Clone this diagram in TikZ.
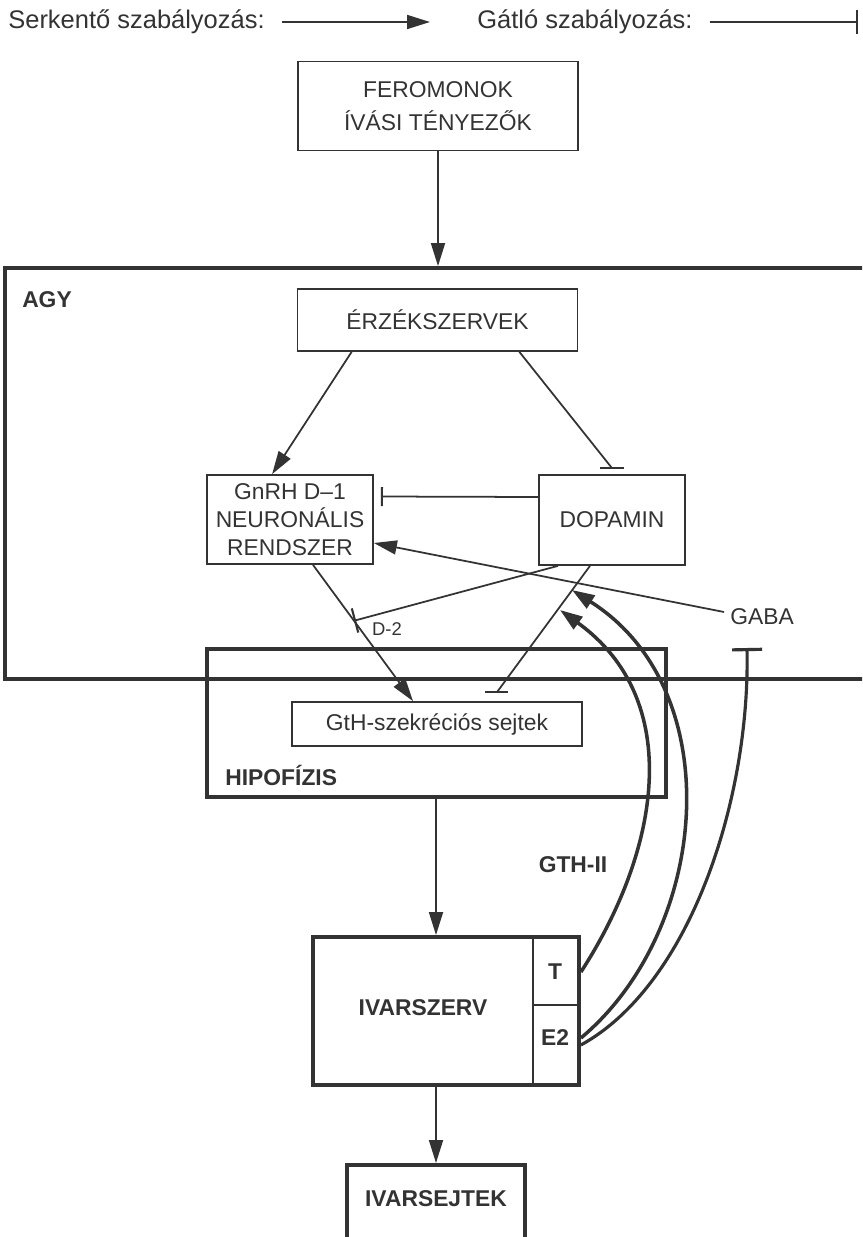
\documentclass[tikz,border=0pt]{standalone}
\usepackage{fontspec}
\setmainfont{Liberation Sans}
\usetikzlibrary{arrows.meta,calc}
\definecolor{ink}{gray}{0.2}
\tikzset{
  box/.style={draw=ink,text=ink,line width=1pt,inner sep=0pt,align=center,font=\fontsize{13}{16}\selectfont},
  bigbox/.style={draw=ink,line width=2.2pt,inner sep=0pt},
  lbl/.style={text=ink,inner sep=0pt,font=\fontsize{13}{16}\selectfont\bfseries},
  act/.style={draw=ink,line width=1pt,-{Triangle[length=4.6mm,width=2.8mm]}},
  inh/.style={draw=ink,line width=1pt,-{Bar[width=#1,line width=1.2pt]}},
  inh/.default=4.8mm,
  fb/.style={draw=ink,line width=2pt}
}
\begin{document}
\begin{tikzpicture}[x=0.02cm,y=-0.02cm]
\path[use as bounding box,clip] (0,0) rectangle (862,1237);

% jelmagyarazat
\node[text=ink,inner sep=0pt,anchor=west,font=\fontsize{14.5}{17}\selectfont] (leg1) at (8,22) {Serkentő szabályozás:};
\draw[act] ([xshift=3.4mm]leg1.east) -- ++(148,0) coordinate (leg1e);
\node[text=ink,inner sep=0pt,anchor=west,font=\fontsize{14.5}{17}\selectfont] (leg2) at (477,22) {Gátló szabályozás:};
\draw[inh=5mm] ([xshift=3.4mm]leg2.east) -- ++(148,0) coordinate (leg2e);

% feromonok, agy
\node[box,minimum width=5.6cm,minimum height=1.78cm,font=\fontsize{13}{19}\selectfont] (fer) at (438,106) {FEROMONOK\\ÍVÁSI TÉNYEZŐK};
\node[bigbox,minimum width=17.5cm,minimum height=8.22cm] (agy) at (442.5,473.5) {};
\node[lbl] (agyl) at (47,300) {AGY};
\draw[act] (fer) -- (fer |- agy.north);

\node[box,minimum width=5.6cm,minimum height=1.24cm] (erz) at (437.5,320) {ÉRZÉKSZERVEK};
\node[box,minimum width=3.32cm,minimum height=1.78cm] (gnrh) at (290,519.5) {GnRH D–1\\NEURONÁLIS\\RENDSZER};
\node[box,minimum width=2.92cm,minimum height=1.8cm] (dop) at (612,520) {DOPAMIN};
\node[text=ink,font=\fontsize{13}{16}\selectfont] (gaba) at (762,617) {GABA};

% hipofizis
\node[bigbox,minimum width=9.18cm,minimum height=2.96cm] (hip) at (436.5,723) {};
\node[box,minimum width=5.8cm,minimum height=0.88cm] (gth) at (437,724) {GtH-szekréciós sejtek};
\node[lbl,anchor=west] (hipl) at (225,775) {HIPOFÍZIS};

% kapcsolatok az agyban
\draw[act] ([xshift=1.1cm]erz.south west) -- ([xshift=1.32cm]gnrh.north west);
\draw[ink,line width=1pt] ([xshift=-1.18cm]erz.south east) -- ([yshift=1.2mm]dop.north) coordinate (b1);
\draw[ink,line width=1.2pt] ([xshift=-2.4mm]b1) -- ([xshift=2.4mm]b1);
\draw[inh=3.8mm] ([yshift=4.6mm]dop.west) -- ([xshift=1.4mm,yshift=4.6mm]gnrh.east);
\draw[act] ([yshift=1mm]gaba.west) -- ([yshift=-4.7mm]gnrh.east);
\draw[act] ([xshift=4.6mm]gnrh.south) -- coordinate[pos=0.41] (d2) ([xshift=-4.8mm]gth.north);
\draw[inh=5mm] ([xshift=-1.08cm]dop.south) -- (d2);
\node[text=ink,font=\fontsize{10.5}{12}\selectfont] (d2l) at (387,629) {D-2};
\draw[ink,line width=1pt] ([xshift=-4.4mm]dop.south) -- ([xshift=1.2cm,yshift=1.8mm]gth.north) coordinate (b2);
\draw[ink,line width=1.2pt] ([xshift=-2.3mm]b2) -- ([xshift=2.3mm]b2);

% ivarszerv, ivarsejtek
\node[bigbox,minimum width=5.32cm,minimum height=2.96cm] (ivar) at (446,1011) {};
\draw[ink,line width=1pt] ([xshift=-0.96cm]ivar.north east) -- ([xshift=-0.96cm]ivar.south east);
\draw[ink,line width=1pt] ([xshift=-0.96cm,yshift=-1.4cm]ivar.north east) -- ([yshift=-1.4cm]ivar.north east);
\node[lbl] (tl) at (555,972) {T};
\node[lbl] (el) at (555,1038) {E2};
\node[lbl] (ivl) at (423,1008) {IVARSZERV};
\node[lbl] (gthii) at (573,865) {GTH-II};

\node[bigbox,minimum width=3.56cm,minimum height=2cm,anchor=north] (sejt) at (436,1163) {};
\node[lbl] (sejtl) at (436,1199) {IVARSEJTEK};
\draw[act] (sejt.north |- hip.south) -- (sejt.north |- ivar.north);
\draw[act] (sejt.north |- ivar.south) -- (sejt.north);

% visszacsatolas
\coordinate (ta) at (572,590);
\coordinate (tb) at (560,610);
\coordinate (gbar) at (747,648);
\draw[fb,-{Triangle[length=4.5mm,width=3mm]}] (tl -| ivar.east) .. controls (660,850) and (685,700) .. (tb);
\draw[fb,-{Triangle[length=4.5mm,width=3mm]}] (el -| ivar.east) .. controls (710,930) and (730,690) .. (ta);
\draw[ink,line width=1.8pt,-{Bar[width=6mm,line width=1.8pt]}] ($(el -| ivar.east)+(0,7)$) .. controls (690,985) and (750,800) .. (gbar);
\end{tikzpicture}
\end{document}
